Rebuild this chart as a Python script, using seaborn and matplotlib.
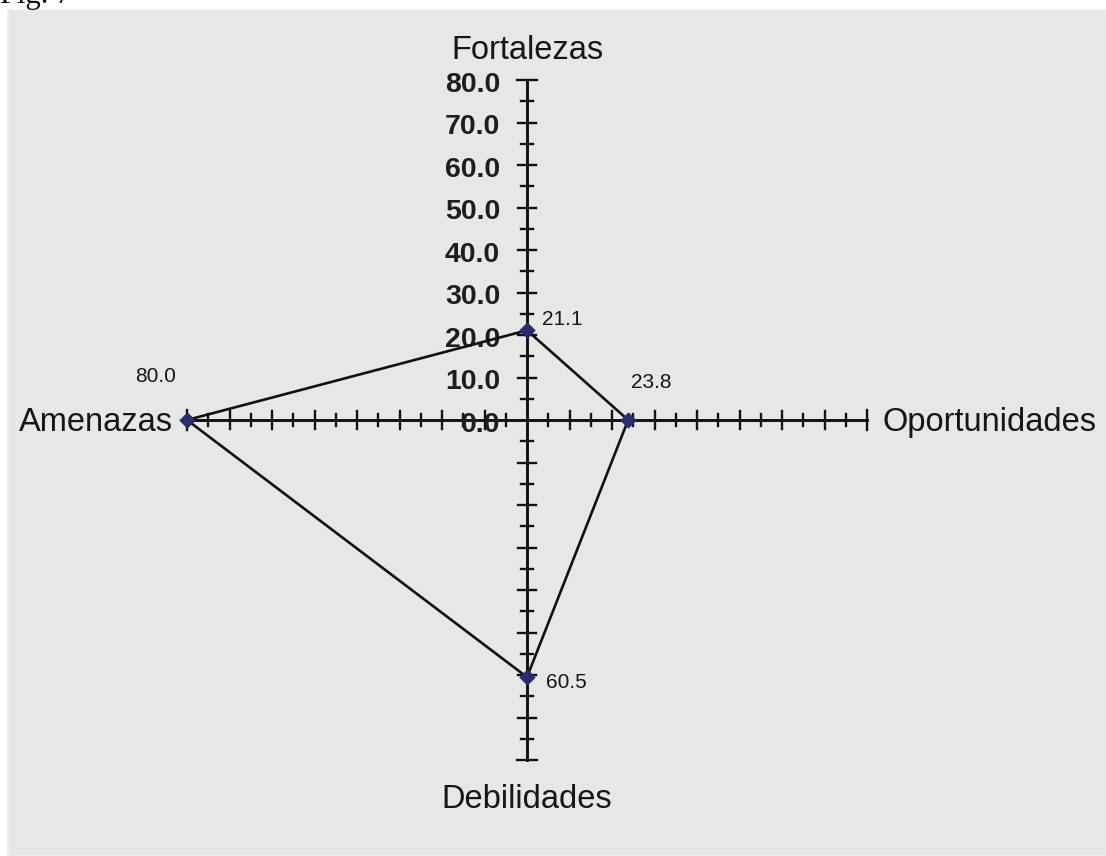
import numpy as np
import pandas as pd
import matplotlib
matplotlib.use("Agg")
import matplotlib.pyplot as plt
from matplotlib.patches import Rectangle
import seaborn as sns

# Datos (matriz FODA)
categories = ["Fortalezas", "Oportunidades", "Debilidades", "Amenazas"]
values = [21.1, 23.8, 60.5, 80.0]
value_labels = ["21.1", "23.8", "60.5", "80.0"]
tick_values = [0.0, 10.0, 20.0, 30.0, 40.0, 50.0, 60.0, 70.0, 80.0]
tick_labels = ["0.0", "10.0", "20.0", "30.0", "40.0", "50.0", "60.0", "70.0", "80.0"]
axis_max = 80.0
minor_step = 5.0

# direccion de cada eje
dir_x = {"Fortalezas": 0, "Oportunidades": 1, "Debilidades": 0, "Amenazas": -1}
dir_y = {"Fortalezas": 1, "Oportunidades": 0, "Debilidades": -1, "Amenazas": 0}

df = pd.DataFrame({"categoria": categories, "valor": values, "etiqueta": value_labels})
df["x"] = df["categoria"].map(dir_x) * df["valor"]
df["y"] = df["categoria"].map(dir_y) * df["valor"]
closed = pd.concat([df, df.iloc[:1]], ignore_index=True)

# figura 1106x856, 4.25 px por unidad, centro en (527, 420)
W, H, dpi = 1106, 856, 100
scale = 4.25
cx, cy = 527, 420

fig = plt.figure(figsize=(W / dpi, H / dpi), dpi=dpi, facecolor="white")
fig.patches.append(Rectangle((8 / W, 0), 1 - 8 / W, 1 - 10 / H, transform=fig.transFigure,
                             facecolor="#e5e8e7", edgecolor="#eef0ef", lw=1.5, zorder=-1))
fig.text(0.0, 1 - 3 / H, "Fig. 7", family="Liberation Serif", fontsize=22,
         ha="left", va="baseline", color="#111111")

ax = fig.add_axes([0, 0, 1, 1])
ax.set_xlim(-cx / scale, (W - cx) / scale)
ax.set_ylim((cy - H) / scale, cy / scale)
ax.axis("off")

line_col = "#111111"
txt_col = "#161616"
font = "Liberation Sans"

# ejes con marcas
ticks = np.arange(minor_step, axis_max + 0.1, minor_step)
for cat in categories:
    dx, dy = dir_x[cat], dir_y[cat]
    ax.plot([0, dx * axis_max], [0, dy * axis_max], color=line_col, lw=2.1, zorder=2)
    for t in ticks:
        if t == axis_max:
            half = 2.4
        elif t % 10 == 0:
            half = 2.1
        else:
            half = 1.3
        if dx != 0:
            ax.plot([t * dx, t * dx], [-half, half], color=line_col, lw=1.7, zorder=2)
        else:
            ax.plot([-half, half], [t * dy, t * dy], color=line_col, lw=1.7, zorder=2)

# etiquetas del eje de Fortalezas
for v, lab in zip(tick_values, tick_labels):
    ax.text(-6.3, v - 1.1, lab, ha="right", va="center", fontsize=20.5,
            fontweight="bold", family=font, color="#1e1e1e")

# nombres de los ejes
ax.text(0, 86.9, "Fortalezas", ha="center", va="center", fontsize=23.5, family=font, color=txt_col)
ax.text(0, -89.2, "Debilidades", ha="center", va="center", fontsize=23.5, family=font, color=txt_col)
ax.text(83.6, -0.7, "Oportunidades", ha="left", va="center", fontsize=23.5, family=font, color=txt_col)
ax.text(-83.2, -0.7, "Amenazas", ha="right", va="center", fontsize=23.5, family=font, color=txt_col)

# poligono y puntos
sns.lineplot(data=closed, x="x", y="y", sort=False, estimator=None, color=line_col,
             lw=1.9, ax=ax, zorder=3)
sns.scatterplot(data=df, x="x", y="y", marker="D", s=60, color="#2d2b6b",
                edgecolor="#2d2b6b", ax=ax, zorder=4, legend=False)

# etiquetas de valores (desplazamiento en puntos)
offsets = {"Fortalezas": (11, 8), "Oportunidades": (2, 27), "Debilidades": (14, -4),
           "Amenazas": (-37, 31)}
for _, r in df.iterrows():
    ax.annotate(r["etiqueta"], (r["x"], r["y"]), xytext=offsets[r["categoria"]],
                textcoords="offset points", ha="left", va="center", fontsize=15,
                family=font, color=txt_col)

fig.savefig("out.png", dpi=dpi)
